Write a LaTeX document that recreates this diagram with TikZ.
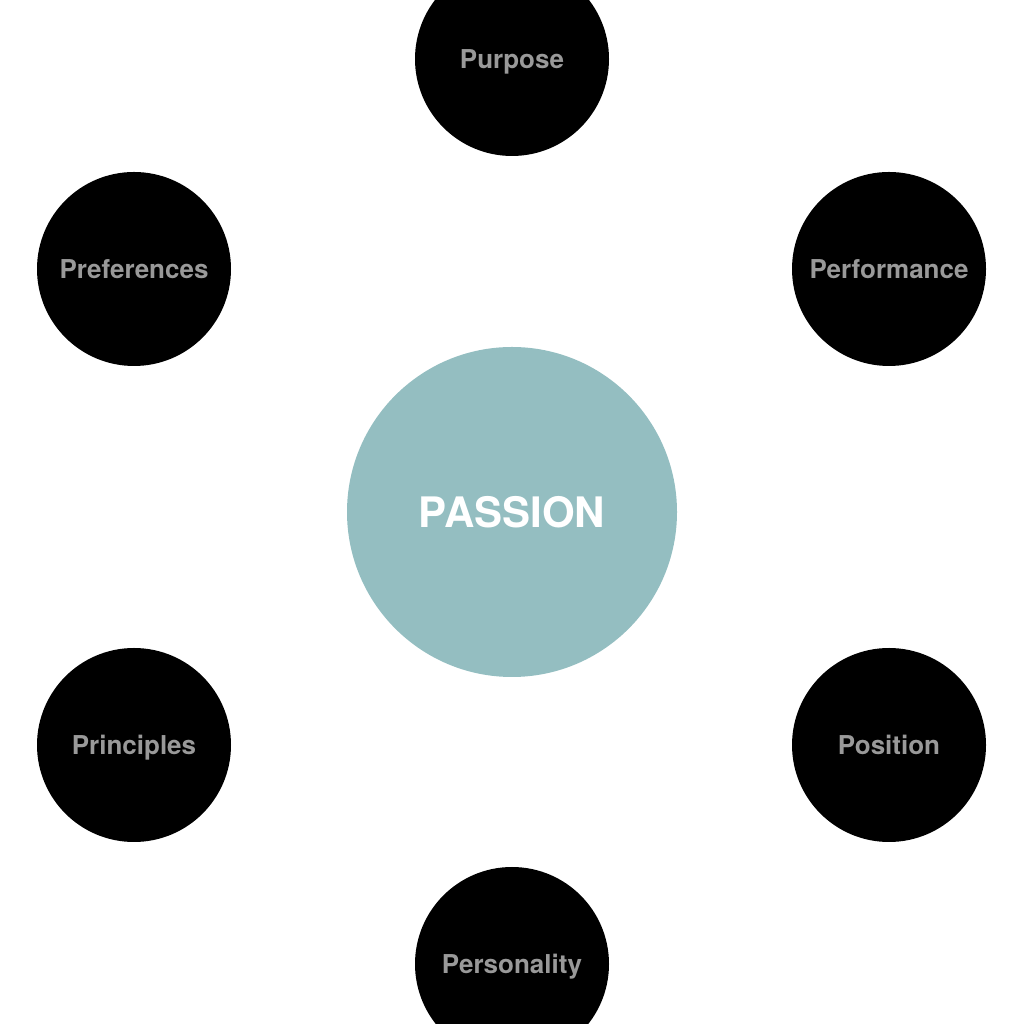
\documentclass[tikz,border=0pt]{standalone}
\usepackage{fontspec}
\setmainfont{TeX Gyre Heros}
\definecolor{passionteal}{HTML}{94BEC1}
\definecolor{labelgrey}{HTML}{999999}
\begin{document}
\begin{tikzpicture}[x=1pt,y=1pt,
	hub/.style={circle,fill=passionteal,minimum size=330pt,inner sep=0pt,text=white,font=\fontsize{42}{42}\selectfont\bfseries},
	spoke/.style={circle,fill=black,minimum size=194pt,inner sep=0pt,text=labelgrey,text height=18.7pt,text depth=0pt,font=\fontsize{26}{26}\selectfont\bfseries}]
	\useasboundingbox (0,0) rectangle (1024,1024);
	\node[hub] (P) at (512,512) {PASSION};
	\node[spoke] (pur) at (512,965) {Purpose};
	\node[spoke] (pref) at (134,755) {Preferences};
	\node[spoke] (perf) at (889,755) {Performance};
	\node[spoke] (prin) at (134,279) {Principles};
	\node[spoke] (pos) at (889,279) {Position};
	\node[spoke] (pers) at (512,60) {Personality};
\end{tikzpicture}
\end{document}
